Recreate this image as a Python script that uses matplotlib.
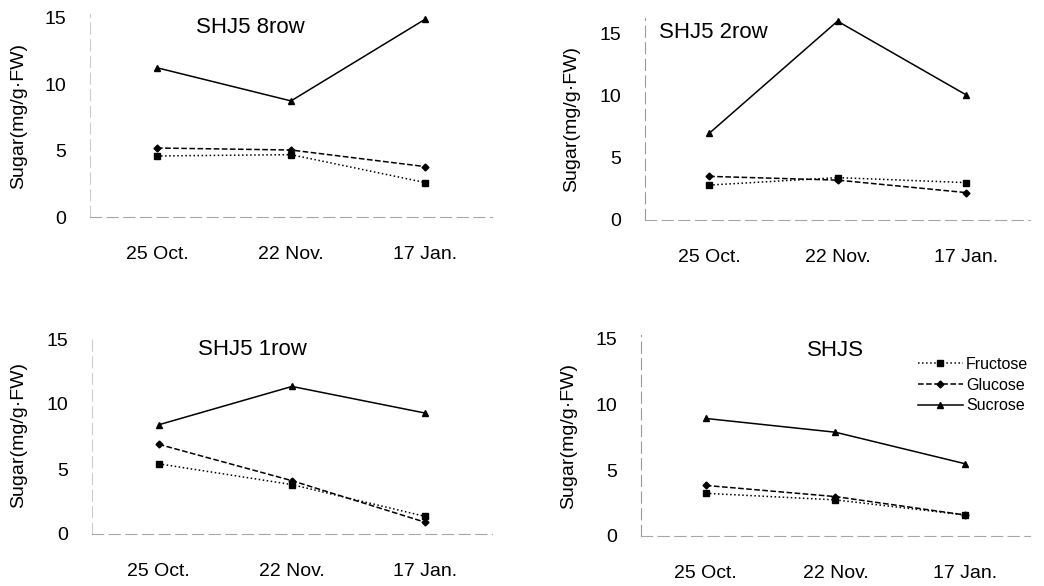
import matplotlib
matplotlib.use("Agg")
import matplotlib.pyplot as plt

plt.rcParams['font.family'] = ['Liberation Sans', 'DejaVu Sans']

dates = ['25 Oct.', '22 Nov.', '17 Jan.']
titles = ['SHJ5 8row', 'SHJ5 2row', 'SHJ5 1row', 'SHJS']

fructose = [
    [4.6, 4.7, 2.6],
    [2.8, 3.4, 3.0],
    [5.4, 3.8, 1.35],
    [3.25, 2.75, 1.6],
]
glucose = [
    [5.2, 5.05, 3.8],
    [3.5, 3.2, 2.2],
    [6.9, 4.1, 0.9],
    [3.85, 3.0, 1.6],
]
sucrose = [
    [11.25, 8.75, 14.9],
    [6.95, 15.95, 10.05],
    [8.4, 11.35, 9.3],
    [8.95, 7.9, 5.5],
]

W, H = 1044, 586
fig = plt.figure(figsize=(W / 100, H / 100), dpi=100)

# panel boxes in pixels: left, right, y of 0, y of 15, ymax
boxes = [
    (90, 492, 217, 18, 15.3),
    (645, 1030, 220, 33, 16.2),
    (92, 492, 534, 339, 15.3),
    (641, 1030, 536, 339, 15.3),
]
title_pos = [(0.7, 14.3, 'center'), (-0.39, 15.0, 'left'),
             (0.7, 14.2, 'center'), (1.0, 14.1, 'center')]
# right edge of the rotated y label, pixels
label_x = [27, 580, 27, 577]
axis_grey = ['0.8', '0.6', '0.8', '0.6']

x = range(len(dates))
for i, (l, r, y0, y15, ymax) in enumerate(boxes):
    unit = (y0 - y15) / 15.0
    top = y0 - ymax * unit
    ax = fig.add_axes([l / W, 1 - y0 / H, (r - l) / W, (y0 - top) / H])
    ax.plot(x, fructose[i], ls=':', marker='s', ms=5, color='k', lw=1.1,
            label='Fructose', clip_on=False)
    ax.plot(x, glucose[i], ls='--', marker='D', ms=3.5, color='k', lw=1.1,
            label='Glucose', clip_on=False)
    ax.plot(x, sucrose[i], ls='-', marker='^', ms=5, color='k', lw=1.1,
            label='Sucrose', clip_on=False)
    ax.set_xlim(-0.5, 2.5)
    ax.set_ylim(0, ymax)
    ax.set_xticks(list(x))
    ax.set_xticklabels(dates, fontsize=14)
    ax.set_yticks([0, 5, 10, 15])
    ax.tick_params(axis='y', length=0, pad=17, labelsize=14)
    ax.tick_params(axis='x', length=0, pad=21)
    for s in ['top', 'right']:
        ax.spines[s].set_visible(False)
    ax.spines['left'].set_color(axis_grey[i])
    ax.spines['bottom'].set_color('0.65')
    for s in ['left', 'bottom']:
        ax.spines[s].set_linewidth(0.8)
        ax.spines[s].set_linestyle((0, (10, 5)))
    ax.set_ylabel('Sugar(mg/g·FW)', fontsize=14)
    ax.yaxis.set_label_coords((label_x[i] - l) / (r - l), 0.5)
    tx, ty, ha = title_pos[i]
    ax.text(tx, ty, titles[i], fontsize=16, ha=ha, va='center')
    if i == 3:
        ax.legend(loc='upper left', bbox_to_anchor=(918 / W, 1 - 357 / H),
                  bbox_transform=fig.transFigure, frameon=False, fontsize=11.5,
                  handlelength=2.8, handletextpad=0.2, labelspacing=0.35,
                  borderpad=0, borderaxespad=0)

fig.savefig('out.png', dpi=100)
